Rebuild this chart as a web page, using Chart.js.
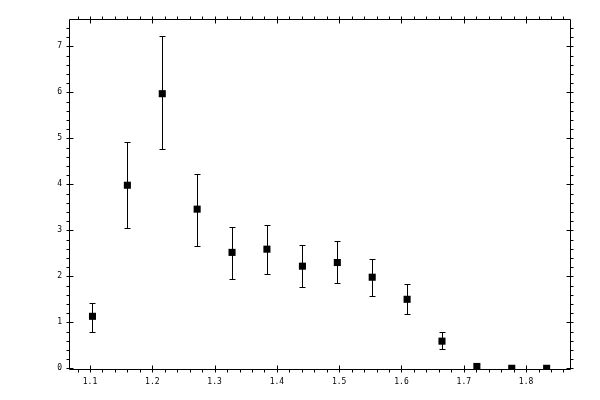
<!DOCTYPE html>
<html>
<head>
<meta charset="utf-8">
<script src="https://cdn.jsdelivr.net/npm/chart.js@4/dist/chart.umd.min.js"></script>
<style>
  body { margin: 0; background: #fff; }
  #wrap { width: 600px; height: 400px; }
</style>
</head>
<body>
<div id="wrap"><canvas id="chart"></canvas></div>
<script>
// values
const xValues = [1.104, 1.160, 1.216, 1.272, 1.328, 1.384, 1.441, 1.497, 1.553, 1.609, 1.665, 1.721, 1.777, 1.833];
const yValues = [1.13, 3.98, 5.97, 3.46, 2.52, 2.59, 2.22, 2.30, 1.98, 1.50, 0.59, 0.04, 0.0, 0.0];
const yUpper  = [1.43, 4.91, 7.22, 4.23, 3.08, 3.11, 2.67, 2.76, 2.37, 1.83, 0.78, 0.04, 0.0, 0.0];
const yLower  = [0.80, 3.05, 4.76, 2.65, 1.94, 2.04, 1.76, 1.85, 1.57, 1.17, 0.41, 0.04, 0.0, 0.0];

const xTicks = [1.1, 1.2, 1.3, 1.4, 1.5, 1.6, 1.7, 1.8];
const yTicks = [0, 1, 2, 3, 4, 5, 6, 7];

const points = xValues.map((x, i) => ({ x: x, y: yValues[i] }));

// error bars under the markers
const errorBars = {
    id: 'errorBars',
    beforeDatasetsDraw(chart) {
        const ctx = chart.ctx;
        const xs = chart.scales.x, ys = chart.scales.y;
        ctx.save();
        ctx.strokeStyle = '#000';
        ctx.lineWidth = 1;
        xValues.forEach((x, i) => {
            if (yUpper[i] === yLower[i]) return;
            const px = Math.round(xs.getPixelForValue(x)) + 0.5;
            const top = Math.round(ys.getPixelForValue(yUpper[i])) + 0.5;
            const bot = Math.round(ys.getPixelForValue(yLower[i])) + 0.5;
            ctx.beginPath();
            ctx.moveTo(px, top); ctx.lineTo(px, bot);
            ctx.moveTo(px - 3, top); ctx.lineTo(px + 3, top);
            ctx.moveTo(px - 3, bot); ctx.lineTo(px + 3, bot);
            ctx.stroke();
        });
        ctx.restore();
    }
};

// box frame with major / minor ticks on all four sides
const frame = {
    id: 'frame',
    afterDraw(chart) {
        const ctx = chart.ctx;
        const a = chart.chartArea;
        const xs = chart.scales.x, ys = chart.scales.y;
        const L = a.left + 0.5, R = a.right - 0.5, T = a.top + 0.5, B = a.bottom - 0.5;
        ctx.save();
        ctx.strokeStyle = '#000';
        ctx.lineWidth = 1;
        ctx.beginPath();
        ctx.rect(L, T, R - L, B - T);

        for (let k = 54; k <= 93; k++) {
            const v = k / 50;
            if (v < xs.min || v > xs.max) continue;
            const px = Math.round(xs.getPixelForValue(v)) + 0.5;
            const major = k % 5 === 0;
            ctx.moveTo(px, B + 3); ctx.lineTo(px, major ? B - 4 : B);
            ctx.moveTo(px, T - 3); ctx.lineTo(px, major ? T + 4 : T);
        }
        for (let k = 0; k <= 38; k++) {
            const v = k / 5;
            if (v < ys.min || v > ys.max) continue;
            const py = Math.round(ys.getPixelForValue(v)) + 0.5;
            const major = k % 5 === 0;
            ctx.moveTo(L - 3, py); ctx.lineTo(major ? L + 4 : L, py);
            ctx.moveTo(R + 3, py); ctx.lineTo(major ? R - 4 : R, py);
        }
        ctx.stroke();
        ctx.restore();
    }
};

new Chart(document.getElementById('chart'), {
    type: 'scatter',
    data: {
        datasets: [{
            data: points,
            pointStyle: 'rect',
            pointRadius: 5,
            pointHoverRadius: 5,
            backgroundColor: '#000',
            borderColor: '#000',
            borderWidth: 0,
            showLine: false
        }]
    },
    plugins: [errorBars, frame],
    options: {
        responsive: true,
        maintainAspectRatio: false,
        animation: false,
        devicePixelRatio: 1,
        layout: { padding: { left: 0, top: 19, right: 29, bottom: 0 } },
        plugins: {
            legend: { display: false },
            tooltip: { enabled: false }
        },
        scales: {
            x: {
                type: 'linear',
                min: 1.0663,
                max: 1.8721,
                grid: { display: false, drawTicks: false },
                border: { display: false },
                afterBuildTicks: s => { s.ticks = xTicks.map(v => ({ value: v })); },
                afterFit: s => { s.height = 30; },
                ticks: {
                    padding: 7,
                    color: '#000',
                    maxRotation: 0,
                    font: { family: 'DejaVu Sans Mono', size: 8 },
                    callback: v => v.toFixed(1)
                }
            },
            y: {
                type: 'linear',
                min: -0.037,
                max: 7.594,
                grid: { display: false, drawTicks: false },
                border: { display: false },
                afterBuildTicks: s => { s.ticks = yTicks.map(v => ({ value: v })); },
                afterFit: s => { s.width = 69; },
                ticks: {
                    padding: 7,
                    color: '#000',
                    font: { family: 'DejaVu Sans Mono', size: 8 },
                    callback: v => String(v)
                }
            }
        }
    }
});
</script>
</body>
</html>
